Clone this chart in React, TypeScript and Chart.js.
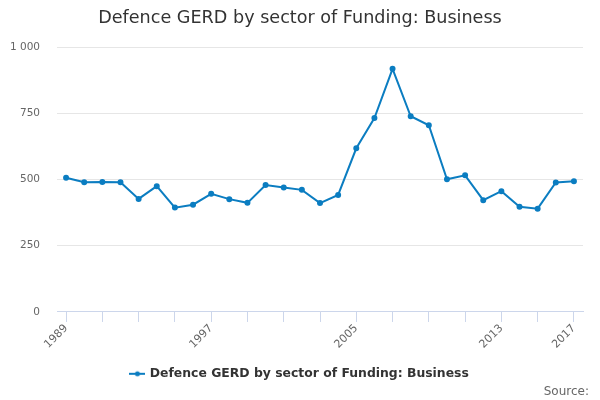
import { useEffect, useRef } from "react"
import { Chart, registerables } from "chart.js"

Chart.register(...registerables)

const years = [
  "1989", "1990", "1991", "1992", "1993", "1994", "1995", "1996", "1997", "1998",
  "1999", "2000", "2001", "2002", "2003", "2004", "2005", "2006", "2007", "2008",
  "2009", "2010", "2011", "2012", "2013", "2014", "2015", "2016", "2017",
]
const business = [
  507, 490, 491, 490, 427, 475, 394, 405, 446, 426,
  412, 479, 470, 461, 411, 442, 618, 732, 918, 739,
  705, 501, 516, 422, 456, 397, 390, 489, 494,
]
const shownYears = ["1989", "1997", "2005", "2013", "2017"]
const yTicks = [0, 250, 500, 750, 1000]

const LINE = "#0b7dc1"
const FONT = "'DejaVu Sans', sans-serif"

function legendIcon() {
  const c = document.createElement("canvas")
  c.width = 16
  c.height = 8
  const g = c.getContext("2d")!
  g.strokeStyle = LINE
  g.lineWidth = 2
  g.beginPath()
  g.moveTo(0, 4)
  g.lineTo(16, 4)
  g.stroke()
  g.fillStyle = LINE
  g.beginPath()
  g.arc(8, 4, 2.5, 0, Math.PI * 2)
  g.fill()
  return c
}

export default function App() {
  const chartRef = useRef<HTMLCanvasElement>(null)
  const chartInstance = useRef<Chart | null>(null)

  useEffect(() => {
    if (!chartRef.current) return
    const ctx = chartRef.current.getContext("2d")
    if (!ctx) return

    if (chartInstance.current) chartInstance.current.destroy()

    const icon = legendIcon()

    chartInstance.current = new Chart(ctx, {
      type: "line",
      data: {
        labels: years,
        datasets: [
          {
            label: "Defence GERD by sector of Funding: Business",
            data: business,
            borderColor: LINE,
            backgroundColor: LINE,
            borderWidth: 2,
            pointRadius: 2,
            pointHoverRadius: 3,
            tension: 0,
          },
        ],
      },
      options: {
        responsive: true,
        maintainAspectRatio: false,
        animation: false,
        layout: { padding: { left: 0, right: 0, top: 4, bottom: 10 } },
        plugins: {
          title: {
            display: true,
            text: "Defence GERD by sector of Funding: Business",
            color: "#333333",
            font: { family: FONT, size: 17.6, weight: "normal" },
            padding: { top: 4, bottom: 18 },
          },
          legend: {
            display: true,
            position: "bottom",
            labels: {
              color: "#333333",
              font: { family: FONT, size: 12.4, weight: "bold" },
              usePointStyle: true,
              pointStyle: icon,
              padding: 16.5,
            },
          },
          tooltip: { enabled: false },
        },
        scales: {
          x: {
            offset: true,
            border: { display: true, color: "#ccd6eb" },
            grid: {
              drawOnChartArea: false,
              drawTicks: true,
              tickLength: 10,
              tickColor: (c: any) => (c.index % 2 === 0 ? "#ccd6eb" : "transparent"),
            },
            ticks: {
              autoSkip: false,
              maxRotation: 45,
              minRotation: 45,
              color: "#666666",
              font: { family: FONT, size: 11 },
              padding: 0,
              callback: (_v: any, i: number) => (shownYears.includes(years[i]) ? years[i] : ""),
            },
          },
          y: {
            min: 0,
            max: 1000,
            border: { display: false },
            afterBuildTicks: (scale: any) => {
              scale.ticks = yTicks.map((v) => ({ value: v }))
            },
            afterFit: (scale: any) => {
              scale.width = 57
            },
            grid: { color: "#e6e6e6", drawTicks: false },
            ticks: {
              color: "#666666",
              font: { family: FONT, size: 10.5 },
              padding: 17,
              callback: (v: any) => String(v).replace(/\B(?=(\d{3})+(?!\d))/g, " "),
            },
          },
          // empty right-hand axis: only keeps the plot 17px from the right edge
          yRight: {
            position: "right",
            min: 0,
            max: 1000,
            border: { display: false },
            grid: { display: false },
            ticks: { display: false },
            afterFit: (scale: any) => {
              scale.width = 17
            },
          },
        },
      },
    })

    return () => {
      if (chartInstance.current) {
        chartInstance.current.destroy()
        chartInstance.current = null
      }
    }
  }, [])

  return (
    <div style={{ position: "fixed", left: 0, top: 0, width: 600, height: 400, background: "#ffffff" }}>
      <canvas ref={chartRef}></canvas>
      <div
        style={{
          position: "absolute",
          right: 11,
          bottom: 2,
          fontFamily: FONT,
          fontSize: 12,
          color: "#666666",
        }}
      >
        Source:
      </div>
    </div>
  )
}
